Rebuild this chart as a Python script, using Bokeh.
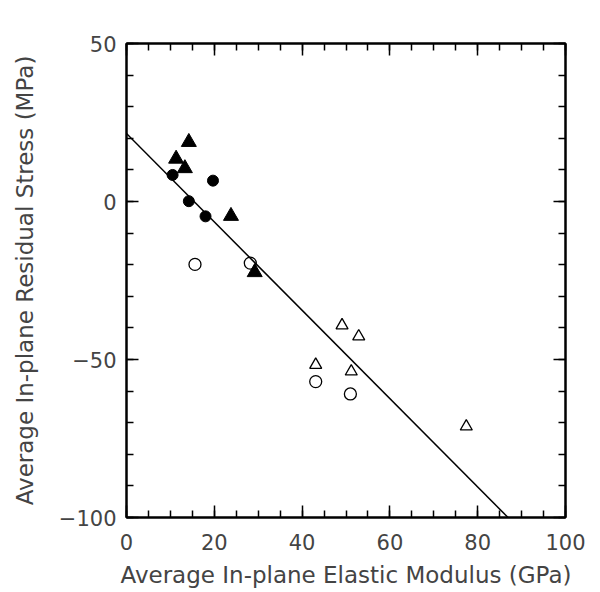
from bokeh.plotting import figure
from bokeh.models import Range1d, FixedTicker, LinearAxis, CustomJSTickFormatter, Slope
from bokeh.embed import file_html
from bokeh.resources import INLINE

# Data
filled_tri_x = [11.3, 13.3, 14.2, 23.8, 29.2]
filled_tri_y = [13.5, 10.5, 18.8, -4.6, -22.4]
filled_circ_x = [10.5, 14.2, 18.0, 19.7]
filled_circ_y = [8.4, 0.1, -4.7, 6.6]
open_circ_x = [15.6, 28.2, 43.1, 51.0]
open_circ_y = [-19.9, -19.5, -57.0, -60.9]
open_tri_x = [43.1, 49.1, 51.2, 52.9, 77.4]
open_tri_y = [-51.7, -39.2, -53.8, -42.7, -71.2]
fit_intercept = 21.5
fit_slope = -1.398

x_major = [0, 20, 40, 60, 80, 100]
x_minor = list(range(0, 101, 5))
y_major = [-100, -50, 0, 50]
y_minor = list(range(-100, 51, 10))
y_labels = {-100: "\u2212100", -50: "\u221250", 0: "0", 50: "50"}

FONT = "DejaVu Sans"
TXT = "#444444"

p = figure(width=592, height=590, output_backend="svg", toolbar_location=None,
           x_range=Range1d(0, 100), y_range=Range1d(-100, 50),
           min_border_left=126, min_border_right=27, min_border_top=43, min_border_bottom=73)
p.grid.visible = False
p.background_fill_color = "white"
p.border_fill_color = "white"
p.outline_line_color = "black"
p.outline_line_width = 2

def style(ax, ticks, minor):
    ax.ticker = FixedTicker(ticks=ticks, minor_ticks=minor)
    ax.axis_line_width = 2
    ax.axis_line_color = "black"
    ax.major_tick_in = 12
    ax.major_tick_out = 0
    ax.minor_tick_in = 7
    ax.minor_tick_out = 0
    ax.major_tick_line_width = 1.5
    ax.minor_tick_line_width = 1.5
    ax.major_label_text_font = FONT
    ax.major_label_text_font_size = "21px"
    ax.major_label_text_color = TXT
    ax.axis_label_text_font = FONT
    ax.axis_label_text_font_size = "23px"
    ax.axis_label_text_font_style = "normal"
    ax.axis_label_text_color = TXT

xa = p.xaxis[0]
style(xa, x_major, x_minor)
xa.axis_label = "Average In-plane Elastic Modulus (GPa)"
xa.major_label_standoff = 16
xa.axis_label_standoff = 9

ya = p.yaxis[0]
style(ya, y_major, y_minor)
ya.major_label_overrides = y_labels
ya.axis_label = "Average In-plane Residual Stress (MPa)"
ya.major_label_standoff = 10
ya.axis_label_standoff = 18

blank = CustomJSTickFormatter(code="return ''")
ra = LinearAxis(formatter=blank)
style(ra, y_major, y_minor)
p.add_layout(ra, "right")
ta = LinearAxis(formatter=blank)
style(ta, x_major, x_minor)
p.add_layout(ta, "above")

p.add_layout(Slope(gradient=fit_slope, y_intercept=fit_intercept, line_color="black", line_width=1.5))

p.scatter(filled_tri_x, filled_tri_y, marker="triangle", size=15, fill_color="black", line_color="black")
p.scatter(filled_circ_x, filled_circ_y, marker="circle", size=11, fill_color="black", line_color="black")
p.scatter(open_circ_x, open_circ_y, marker="circle", size=12, fill_color=None, line_color="black", line_width=1.3)
p.scatter(open_tri_x, open_tri_y, marker="triangle", size=12, fill_color=None, line_color="black", line_width=1.3)

open("out.html", "w").write(file_html(p, INLINE))
